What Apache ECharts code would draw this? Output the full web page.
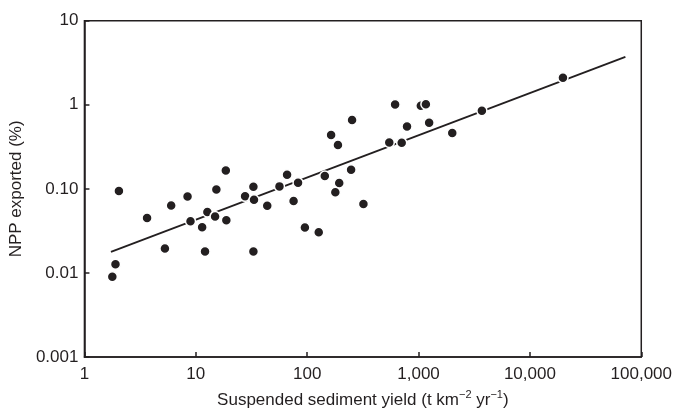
<!DOCTYPE html>
<html>
<head>
<meta charset="utf-8">
<script src="https://cdn.jsdelivr.net/npm/echarts@6/dist/echarts.min.js"></script>
<style>
html,body{margin:0;padding:0;background:#fff;}
#chart{width:675px;height:414px;}
</style>
</head>
<body>
<div id="chart"></div>
<script>
// Suspended sediment yield (t km-2 yr-1)
const sedimentYield = [1.78, 1.90, 2.04, 3.65, 5.28, 6.01, 8.43, 8.96, 11.4, 12.1, 12.7, 14.9, 15.3, 18.8, 18.6,
  27.7, 32.9, 33.3, 32.9, 43.8, 56.4, 66.0, 75.5, 82.8, 95.4, 127, 144, 164, 189, 194, 179, 248, 253, 320,
  546, 616, 706, 788, 1048, 1164, 1245, 2008, 3705, 19800];
// NPP exported (%)
const nppExported = [0.0090, 0.0127, 0.094, 0.045, 0.0195, 0.0634, 0.0809, 0.0412, 0.035, 0.018, 0.053, 0.047, 0.098, 0.0424, 0.165,
  0.0815, 0.106, 0.074, 0.018, 0.063, 0.107, 0.147, 0.0717, 0.118, 0.0347, 0.0305, 0.142, 0.436, 0.332, 0.117, 0.091, 0.169, 0.661, 0.066,
  0.357, 1.01, 0.354, 0.55, 0.975, 1.016, 0.61, 0.461, 0.851, 2.09];
// Regression line endpoints
const fitLineX = [1.73, 72000];
const fitLineY = [0.0178, 3.72];
const xTickLabels = ['1', '10', '100', '1,000', '10,000', '100,000'];
const yTickLabels = ['0.001', '0.01', '0.10', '1', '10'];

const ink = '#231f20';
const font = 'Liberation Sans, Arial, Helvetica, sans-serif';
const chart = echarts.init(document.getElementById('chart'), null, {renderer: 'canvas'});
chart.setOption({
  animation: false,
  backgroundColor: '#fff',
  grid: {left: 82.3, right: 31, top: 20.7, bottom: 55.7, show: true, borderColor: ink, borderWidth: 1.5, containLabel: false},
  xAxis: {
    type: 'log', logBase: 10, min: 1, max: 100000,
    name: '{a|Suspended sediment yield (t km}{s|−2}{a| yr}{s|−1}{a|)}',
    nameLocation: 'middle', nameGap: 32,
    nameTextStyle: {
      color: ink, fontFamily: font, fontSize: 17, verticalAlign: 'top',
      rich: {
        a: {color: ink, fontFamily: font, fontSize: 17, lineHeight: 20, verticalAlign: 'bottom'},
        s: {color: ink, fontFamily: font, fontSize: 11, lineHeight: 20, verticalAlign: 'top'}
      }
    },
    axisLine: {show: true, lineStyle: {color: ink, width: 1.5}},
    axisTick: {show: true, inside: true, length: 5, lineStyle: {color: ink, width: 1.5}},
    minorTick: {show: false},
    splitLine: {show: false},
    axisLabel: {
      color: ink, fontFamily: font, fontSize: 17, margin: 9,
      formatter: v => xTickLabels[Math.round(Math.log10(v))]
    }
  },
  yAxis: {
    type: 'log', logBase: 10, min: 0.001, max: 10,
    name: 'NPP exported (%)',
    nameLocation: 'middle', nameGap: 51, nameRotate: 90,
    nameTextStyle: {color: ink, fontFamily: font, fontSize: 17},
    axisLine: {show: true, lineStyle: {color: ink, width: 1.5}},
    axisTick: {show: true, inside: true, length: 5, lineStyle: {color: ink, width: 1.5}},
    splitLine: {show: false},
    axisLabel: {
      color: ink, fontFamily: font, fontSize: 17, margin: 6,
      formatter: v => yTickLabels[Math.round(Math.log10(v)) + 3]
    }
  },
  series: [
    {
      type: 'line', z: 2, silent: true,
      data: fitLineX.map((x, i) => [x, fitLineY[i]]),
      symbol: 'none',
      lineStyle: {color: ink, width: 1.8}
    },
    {
      type: 'scatter', z: 3,
      data: sedimentYield.map((x, i) => [x, nppExported[i]]),
      symbol: 'circle', symbolSize: 10,
      itemStyle: {color: ink, borderColor: '#fff', borderWidth: 1.5, opacity: 1}
    }
  ]
});
</script>
</body>
</html>
